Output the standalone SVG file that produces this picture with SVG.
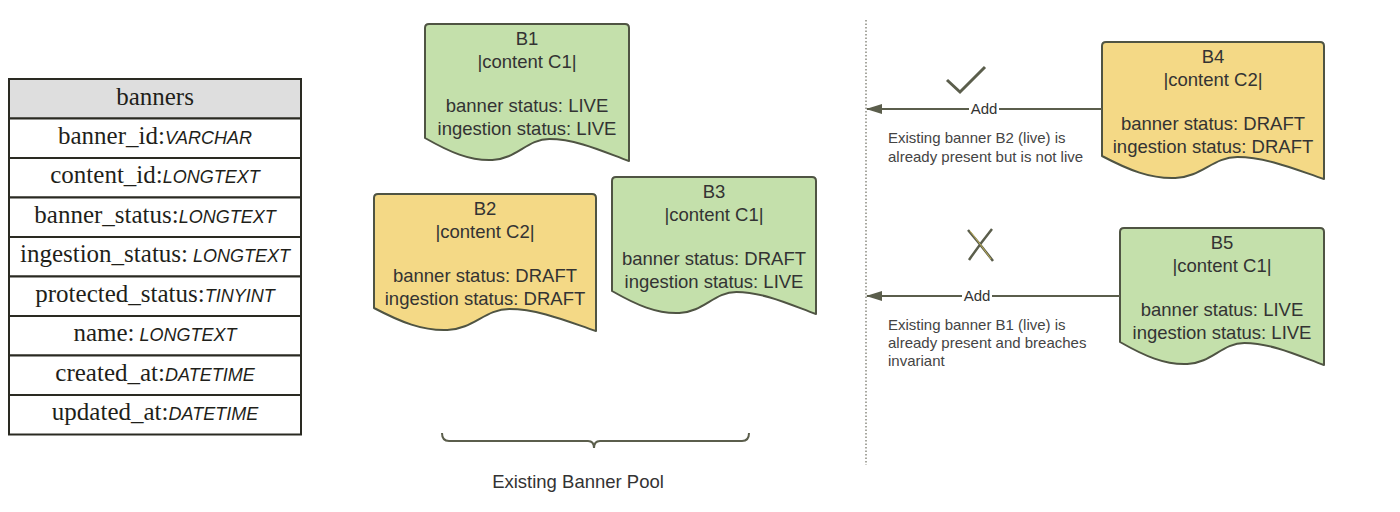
<svg xmlns="http://www.w3.org/2000/svg" width="1400" height="512" viewBox="0 0 1400 512">
<style>
.tbl{fill:#fff;stroke:#2a2a22;stroke-width:2}
.hdr{fill:#dedede;stroke:#2a2a22;stroke-width:2}
.ser{font-family:"Liberation Serif","Times New Roman",serif;font-size:25px;fill:#1f1f1a}
.typ{font-family:"Liberation Sans",Arial,sans-serif;font-size:18px;font-style:italic;fill:#1f1f1a}
.doc{stroke:#4f5443;stroke-width:2;stroke-linejoin:round}
.green{fill:#c4e0ab}
.yellow{fill:#f4d986}
.nt{font-family:"Liberation Sans",Arial,sans-serif;font-size:18.5px;fill:#333;text-anchor:middle}
.ann{font-family:"Liberation Sans",Arial,sans-serif;font-size:15px;fill:#444}
.lbl{font-family:"Liberation Sans",Arial,sans-serif;font-size:15px;fill:#333;text-anchor:middle}
.conn{stroke:#5b5e4c;stroke-width:2;fill:none}
</style>
<defs>
<marker id="arr" viewBox="0 0 16 10" refX="15" refY="5" markerWidth="16" markerHeight="10" markerUnits="userSpaceOnUse" orient="auto">
<path d="M0,0 L16,5 L0,10 Z" fill="#5b5e4c"/>
</marker>
<path id="doc204" d="M0,4 Q0,0 4,0 H200 Q204,0 204,4 V137 C183.6,130 153,115 124.4,115 C102,115 91.8,135 67.3,136 C44.9,137 24.5,128 0,114 Z"/>
<path id="doc222" d="M0,4 Q0,0 4,0 H218 Q222,0 222,4 V137 C199.8,130 166.5,115 135.4,115 C111,115 99.9,135 73.3,136 C48.8,137 26.6,128 0,114 Z"/>
</defs>
<rect width="1400" height="512" fill="#fff"/>

<g id="table-banners">
<rect class="hdr" x="9" y="79" width="292" height="39.5"/>
<rect class="tbl" x="9" y="118.5" width="292" height="39.5"/>
<rect class="tbl" x="9" y="158" width="292" height="39.5"/>
<rect class="tbl" x="9" y="197.5" width="292" height="39.5"/>
<rect class="tbl" x="9" y="237" width="292" height="39.5"/>
<rect class="tbl" x="9" y="276.5" width="292" height="39.5"/>
<rect class="tbl" x="9" y="316" width="292" height="39.5"/>
<rect class="tbl" x="9" y="355.5" width="292" height="39.5"/>
<rect class="tbl" x="9" y="395" width="292" height="39.5"/>
<text class="ser" x="155" y="105" text-anchor="middle">banners</text>
<text x="155" y="144" text-anchor="middle"><tspan class="ser">banner_id:</tspan><tspan class="typ">VARCHAR</tspan></text>
<text x="155" y="183" text-anchor="middle"><tspan class="ser">content_id:</tspan><tspan class="typ">LONGTEXT</tspan></text>
<text x="155" y="222.5" text-anchor="middle"><tspan class="ser">banner_status:</tspan><tspan class="typ">LONGTEXT</tspan></text>
<text x="155" y="262" text-anchor="middle"><tspan class="ser">ingestion_status:</tspan><tspan class="typ"> LONGTEXT</tspan></text>
<text x="155" y="301.5" text-anchor="middle"><tspan class="ser">protected_status:</tspan><tspan class="typ">TINYINT</tspan></text>
<text x="155" y="341" text-anchor="middle"><tspan class="ser">name:</tspan><tspan class="typ"> LONGTEXT</tspan></text>
<text x="155" y="380.5" text-anchor="middle"><tspan class="ser">created_at:</tspan><tspan class="typ">DATETIME</tspan></text>
<text x="155" y="420" text-anchor="middle"><tspan class="ser">updated_at:</tspan><tspan class="typ">DATETIME</tspan></text>
</g>

<g id="B1" transform="translate(425,24)">
<use href="#doc204" class="doc green"/>
<text class="nt" x="102" y="21">B1</text>
<text class="nt" x="102" y="44">|content C1|</text>
<text class="nt" x="102" y="88">banner status: LIVE</text>
<text class="nt" x="102" y="111">ingestion status: LIVE</text>
</g>

<g id="B2" transform="translate(374,194)">
<use href="#doc222" class="doc yellow"/>
<text class="nt" x="111" y="21">B2</text>
<text class="nt" x="111" y="44">|content C2|</text>
<text class="nt" x="111" y="88">banner status: DRAFT</text>
<text class="nt" x="111" y="111">ingestion status: DRAFT</text>
</g>

<g id="B3" transform="translate(612,177)">
<use href="#doc204" class="doc green"/>
<text class="nt" x="102" y="21">B3</text>
<text class="nt" x="102" y="44">|content C1|</text>
<text class="nt" x="102" y="88">banner status: DRAFT</text>
<text class="nt" x="102" y="111">ingestion status: LIVE</text>
</g>

<g id="B4" transform="translate(1102,42)">
<use href="#doc222" class="doc yellow"/>
<text class="nt" x="111" y="21">B4</text>
<text class="nt" x="111" y="44">|content C2|</text>
<text class="nt" x="111" y="88">banner status: DRAFT</text>
<text class="nt" x="111" y="111">ingestion status: DRAFT</text>
</g>

<g id="B5" transform="translate(1120,228)">
<use href="#doc204" class="doc green"/>
<text class="nt" x="102" y="21">B5</text>
<text class="nt" x="102" y="44">|content C1|</text>
<text class="nt" x="102" y="88">banner status: LIVE</text>
<text class="nt" x="102" y="111">ingestion status: LIVE</text>
</g>

<g id="pool-brace">
<path class="conn" d="M442,433 Q442,441 449,441 H588 Q594,441 594,448 Q594,441 600,441 H742 Q749,441 749,433"/>
<text class="nt" x="578" y="488">Existing Banner Pool</text>
</g>

<g id="divider">
<line x1="866" y1="20" x2="866" y2="465" stroke="#8a8a80" stroke-width="1.5" stroke-dasharray="1.5 2"/>
</g>

<g id="connectors">
<line class="conn" x1="1102" y1="109" x2="867" y2="109" marker-end="url(#arr)"/>
<rect x="969" y="100" width="30" height="18" fill="#fff"/>
<text class="lbl" x="984" y="114">Add</text>
<line class="conn" x1="1120" y1="296" x2="867" y2="296" marker-end="url(#arr)"/>
<rect x="962" y="287" width="30" height="18" fill="#fff"/>
<text class="lbl" x="977" y="301">Add</text>
</g>

<g id="check">
<polyline points="947,80 960,92 985,67" fill="none" stroke="#5b5e4c" stroke-width="3"/>
</g>
<g id="cross">
<path d="M968,230 Q980,244 993,261 M992,229 Q980,244 969,260" fill="none" stroke="#5b5e4c" stroke-width="2.5"/>
<path d="M970,231 Q981,245 991,259" fill="none" stroke="#d8c45c" stroke-width="0.8"/>
</g>

<g id="notes">
<text class="ann" x="888" y="143">Existing banner B2 (live) is</text>
<text class="ann" x="888" y="162">already present but is not live</text>
<text class="ann" x="888" y="330">Existing banner B1 (live) is</text>
<text class="ann" x="888" y="348">already present and breaches</text>
<text class="ann" x="888" y="366">invariant</text>
</g>
</svg>
